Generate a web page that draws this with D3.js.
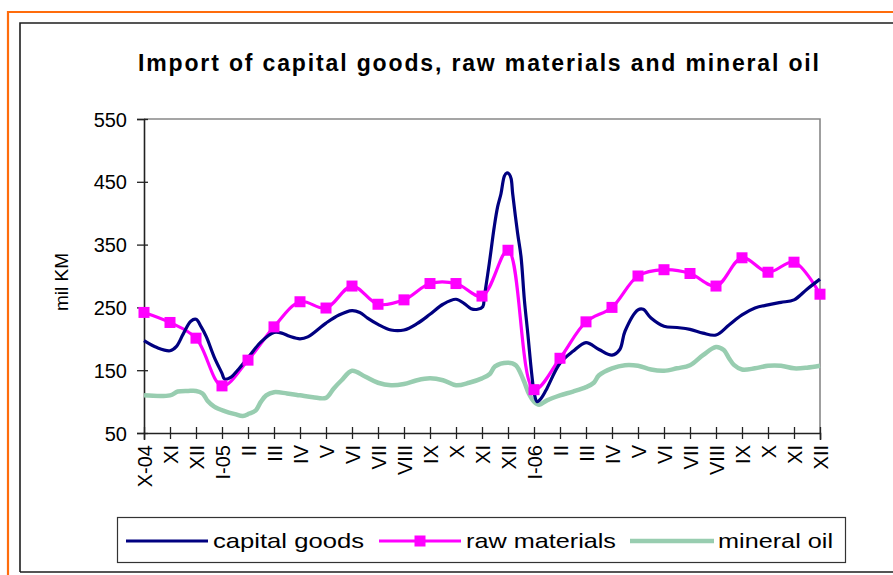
<!DOCTYPE html>
<html>
<head>
<meta charset="utf-8">
<script src="https://cdn.jsdelivr.net/npm/d3@7"></script>
<style>
  html, body { margin: 0; padding: 0; background: #ffffff; }
  svg { display: block; }
  text { font-family: "Liberation Sans", Arial, sans-serif; fill: #000; }
</style>
</head>
<body>
<svg id="chart" width="893" height="575"></svg>
<script>
// ---------- data ----------
const title = "Import of capital goods, raw materials and mineral oil";
const yLabel = "mil KM";
const months = ["X-04","XI","XII","I-05","II","III","IV","V","VI","VII","VIII","IX","X","XI","XII",
                "I-06","II","III","IV","V","VI","VII","VIII","IX","X","XI","XII"];
const yTicks = [50, 150, 250, 350, 450, 550];
const seriesNames = ["capital goods", "raw materials", "mineral oil"];

// raw materials: one value per month
const rawMaterials = [242,226,201,125,166,219,259,249,284,255,262,288,288,268,341,
                      119,169,227,250,300,310,304,284,329,306,322,271];

// capital goods: read at finer positions (month index)
const capitalT = [0,0.5,1,1.25,1.5,1.8,2,2.2,2.4,2.7,3,3.1,3.35,3.6,4,4.5,5,5.3,5.6,6,6.3,7,7.5,8,8.3,8.6,9,9.5,10,10.5,11,11.5,12,12.32,12.58,12.83,13.03,13.09,13.28,13.47,13.6,13.73,13.86,13.95,14.05,14.12,14.18,14.37,14.5,14.63,14.76,14.91,15.01,15.12,15.27,15.46,16,16.5,17,17.5,18,18.3,18.5,19,19.2,19.5,20,20.5,21,21.5,22,22.5,23,23.5,24,24.5,25,25.5,26];
const capitalV = [197,186,181,188,207,228,231,219,203,171,145,136,139,150,170,195,210,209,204,200,203,225,238,245,242,233,223,214,214,224,239,255,263,256,248,247,251,267,320,378,410,431,459,464,462,455,431,368,331,262,209,145,113,100,105,118,161,180,194,183,174,183,212,246,247,233,220,218,215,209,206,222,238,249,254,258,262,279,295];

// mineral oil: read at finer positions (month index)
const oilT = [0,1,1.3,1.7,2,2.25,2.45,2.7,3.1,3.5,3.8,4.05,4.3,4.5,4.7,5,5.5,6,6.5,7,7.3,7.6,8,8.5,9,9.5,10,10.5,11,11.5,12,12.5,13,13.3,13.5,14,14.3,14.6,14.8,15,15.2,15.5,16,16.5,17,17.3,17.5,18,18.5,19,19.5,20,20.5,21,21.5,22,22.3,22.5,22.7,23,23.5,24,24.5,25,25.5,26];
const oilV = [110,110,116,117,117,113,101,92,85,80,77,81,86,100,110,115,113,110,107,106,121,134,149,140,130,126,128,134,137,134,126,130,137,144,156,162,158,134,113,100,95,102,110,116,123,130,142,153,158,157,151,149,153,158,174,187,182,169,158,151,153,157,157,153,154,157];

// ---------- layout ----------
const svg = d3.select("#chart");
const plot = { left: 144, right: 820, top: 119, bottom: 433 };
const colors = { capital: "#000080", raw: "#ff00ff", oil: "#98cdb0" };
const tickFont = 20;

const x = d3.scaleLinear().domain([0, months.length - 1]).range([plot.left, plot.right]);
const y = d3.scaleLinear().domain([50, 550]).range([plot.bottom, plot.top]);

// frames
svg.append("rect").attr("width", 893).attr("height", 575).attr("fill", "#fff");
svg.append("path").attr("d", "M8,575 V12 H893").attr("fill", "none")
   .attr("stroke", "#ff6c0c").attr("stroke-width", 2.2);
svg.append("path").attr("d", "M20,572 V23 H893 M20,572 H893").attr("fill", "none")
   .attr("stroke", "#1e1e1e").attr("stroke-width", 1.6);

// title
svg.append("text")
   .attr("x", 138).attr("y", 71)
   .attr("font-size", 23).attr("font-weight", "bold")
   .attr("textLength", 681).attr("lengthAdjust", "spacing")
   .text(title);

// plot border (top & right, gray)
svg.append("path")
   .attr("d", `M${plot.left},${plot.top} H${plot.right} V${plot.bottom}`)
   .attr("fill", "none").attr("stroke", "#888").attr("stroke-width", 1.6);

// y axis
const yAxis = svg.append("g").attr("transform", `translate(${plot.left},0)`)
   .call(d3.axisLeft(y).tickValues(yTicks).tickSize(7).tickPadding(0).tickFormat(d3.format("d")));
yAxis.select(".domain").attr("stroke", "#222").attr("stroke-width", 1.6);
yAxis.selectAll(".tick line").attr("x1", -7).attr("x2", 4).attr("stroke", "#222").attr("stroke-width", 1.3);
yAxis.selectAll(".tick text").attr("x", -17).attr("dy", "0.35em")
   .attr("font-size", tickFont).attr("font-family", "Liberation Sans, Arial, sans-serif").attr("fill", "#000");

// x axis
const xAxis = svg.append("g").attr("transform", `translate(0,${plot.bottom})`)
   .call(d3.axisBottom(x).tickValues(d3.range(months.length)).tickSize(7).tickFormat(i => months[i]));
xAxis.select(".domain").attr("stroke", "#222").attr("stroke-width", 1.6);
xAxis.selectAll(".tick line").attr("y1", -6).attr("y2", 6).attr("stroke", "#222").attr("stroke-width", 1.3);
xAxis.selectAll(".tick text")
   .attr("font-size", tickFont).attr("font-family", "Liberation Sans, Arial, sans-serif").attr("fill", "#000")
   .attr("text-anchor", "end")
   .attr("transform", "translate(0,12) rotate(-90)")
   .attr("x", 0).attr("y", 0).attr("dy", "0.35em");

// y axis label
svg.append("text")
   .attr("transform", "translate(68,282) rotate(-90)")
   .attr("text-anchor", "middle").attr("font-size", 19)
   .text(yLabel);

// series
const curve = d3.curveCatmullRom.alpha(0.5);
const oilLine = d3.line().x((d, i) => x(oilT[i])).y(d => y(d)).curve(curve);
svg.append("path").datum(oilV).attr("d", oilLine)
   .attr("fill", "none").attr("stroke", colors.oil).attr("stroke-width", 4.5).attr("stroke-linejoin", "round");

const rawLine = d3.line().x((d, i) => x(i)).y(d => y(d)).curve(curve);
svg.append("path").datum(rawMaterials).attr("d", rawLine)
   .attr("fill", "none").attr("stroke", colors.raw).attr("stroke-width", 3.2).attr("stroke-linejoin", "round");

const capLine = d3.line().x((d, i) => x(capitalT[i])).y(d => y(d)).curve(curve);
svg.append("path").datum(capitalV).attr("d", capLine)
   .attr("fill", "none").attr("stroke", colors.capital).attr("stroke-width", 3.2).attr("stroke-linejoin", "round");

const ms = 11;
svg.append("g").selectAll("rect").data(rawMaterials).join("rect")
   .attr("x", (d, i) => x(i) - ms / 2).attr("y", d => y(d) - ms / 2)
   .attr("width", ms).attr("height", ms).attr("fill", colors.raw);

// legend
const lg = svg.append("g");
lg.append("rect").attr("x", 117.5).attr("y", 517.5).attr("width", 728).attr("height", 45)
  .attr("fill", "#fff").attr("stroke", "#333").attr("stroke-width", 1.2);
const ly = 541;
const legendItems = [
  { name: seriesNames[0], color: colors.capital, w: 3.2, x1: 126, x2: 208, tx: 213, tl: 151, marker: false },
  { name: seriesNames[1], color: colors.raw, w: 3.2, x1: 379, x2: 461, tx: 466, tl: 150, marker: true },
  { name: seriesNames[2], color: colors.oil, w: 4.5, x1: 630, x2: 714, tx: 718, tl: 115, marker: false }
];
legendItems.forEach(it => {
  lg.append("line").attr("x1", it.x1).attr("x2", it.x2).attr("y1", ly).attr("y2", ly)
    .attr("stroke", it.color).attr("stroke-width", it.w);
  if (it.marker) {
    lg.append("rect").attr("x", (it.x1 + it.x2) / 2 - ms / 2).attr("y", ly - ms / 2)
      .attr("width", ms).attr("height", ms).attr("fill", it.color);
  }
  lg.append("text").attr("x", it.tx).attr("y", ly + 7).attr("font-size", 21)
    .attr("textLength", it.tl).attr("lengthAdjust", "spacingAndGlyphs")
    .text(it.name);
});
</script>
</body>
</html>
